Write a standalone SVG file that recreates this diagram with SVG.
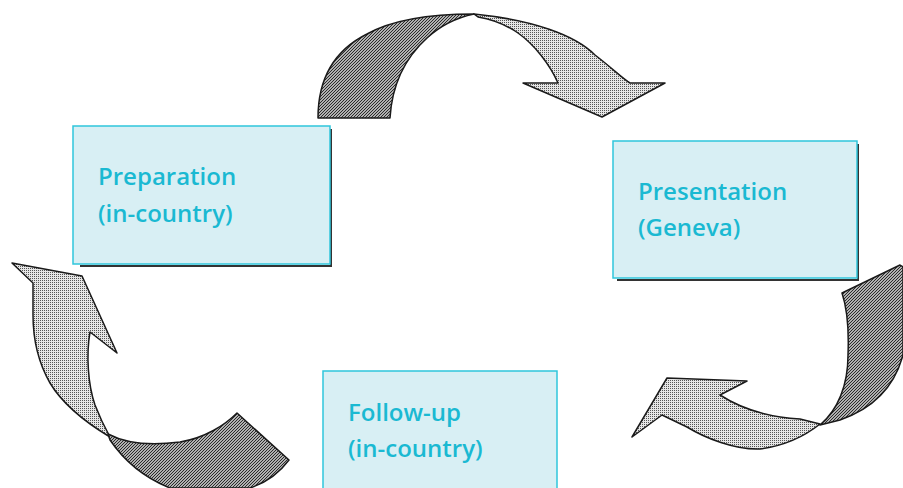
<svg xmlns="http://www.w3.org/2000/svg" width="903" height="488" viewBox="0 0 903 488">
<defs>
<pattern id="dots" width="2" height="2" patternUnits="userSpaceOnUse">
<rect width="2" height="2" fill="#e6e6e6"/>
<rect width="1" height="1" fill="#555555"/>
</pattern>
<pattern id="hatch" width="3" height="3" patternUnits="userSpaceOnUse">
<rect width="3" height="3" fill="#b0b0b0"/>
<path d="M0,3 L3,0 M-1,1 L1,-1 M2,4 L4,2" stroke="#2a2a2a" stroke-width="1"/>
</pattern>
</defs>
<style>
.box{fill:#d8eff4;stroke:#2fc6dc;stroke-width:1.5}
.shadow{fill:none;stroke:#333;stroke-width:2}
.lbl{font-family:"Open Sans","Liberation Sans",sans-serif;font-weight:600;font-size:24px;fill:#1ab9d2}
.light{fill:url(#dots);stroke:#1a1a1a;stroke-width:1.5;stroke-linejoin:round}
.dark{fill:url(#hatch);stroke:#1a1a1a;stroke-width:1.5;stroke-linejoin:round}
</style>
<rect width="903" height="488" fill="#ffffff"/>
<g id="connectors">
<g id="arrow-top">
<path class="dark" d="M318,118 C318,78 335,50 367,34 C392,20 430,14 474,14 C455,18 440,26 427,38 C405,58 392,85 390,118 Z"/>
<path class="light" d="M474,14 C533,20 575,35 595,55 C612,68 622,78 630,83 L665,83 L602,117 L523,83 L558,83 C550,65 535,45 518,33 C505,24 490,19 478,17 Z"/>
</g>
<g id="arrow-right">
<path class="dark" d="M842,293 L900,265 L903,267 L903,355 C895,385 875,408 840,420 L820,425 C838,410 848,385 848,355 C849,330 847,308 842,293 Z"/>
<path class="light" d="M820,424 C810,432 790,445 760,449 C735,450 705,438 687,427 L662,415 L632,437 L667,378 L747,381 L720,395 C740,408 765,417 800,419 Z"/>
</g>
<g id="arrow-left">
<path class="light" d="M12,263 L82,276 L117,353 L90,332 C86,355 88,385 95,405 C100,418 105,428 110,437 C90,425 65,408 50,383 C38,362 33,340 33,315 C33,300 33,290 33,283 Z"/>
<path class="dark" d="M108,434 C125,443 150,446 180,442 C205,438 225,425 237,413 L289,460 C280,472 268,482 250,488 L170,488 C145,478 125,462 110,440 Z"/>
</g>
</g>
<g id="node-preparation">
<path class="shadow" d="M80,266 L331,266 L331,129"/>
<rect class="box" x="73" y="126" width="257" height="138"/>
<text class="lbl" x="98" y="185">Preparation</text>
<text class="lbl" x="98" y="222">(in-country)</text>
</g>
<g id="node-presentation">
<path class="shadow" d="M617,280 L858,280 L858,144"/>
<rect class="box" x="613" y="141" width="244" height="137"/>
<text class="lbl" x="638" y="200">Presentation</text>
<text class="lbl" x="638" y="236">(Geneva)</text>
</g>
<g id="node-followup">
<rect class="box" x="323" y="371" width="234" height="130"/>
<text class="lbl" x="348" y="421">Follow-up</text>
<text class="lbl" x="348" y="457">(in-country)</text>
</g>
</svg>
